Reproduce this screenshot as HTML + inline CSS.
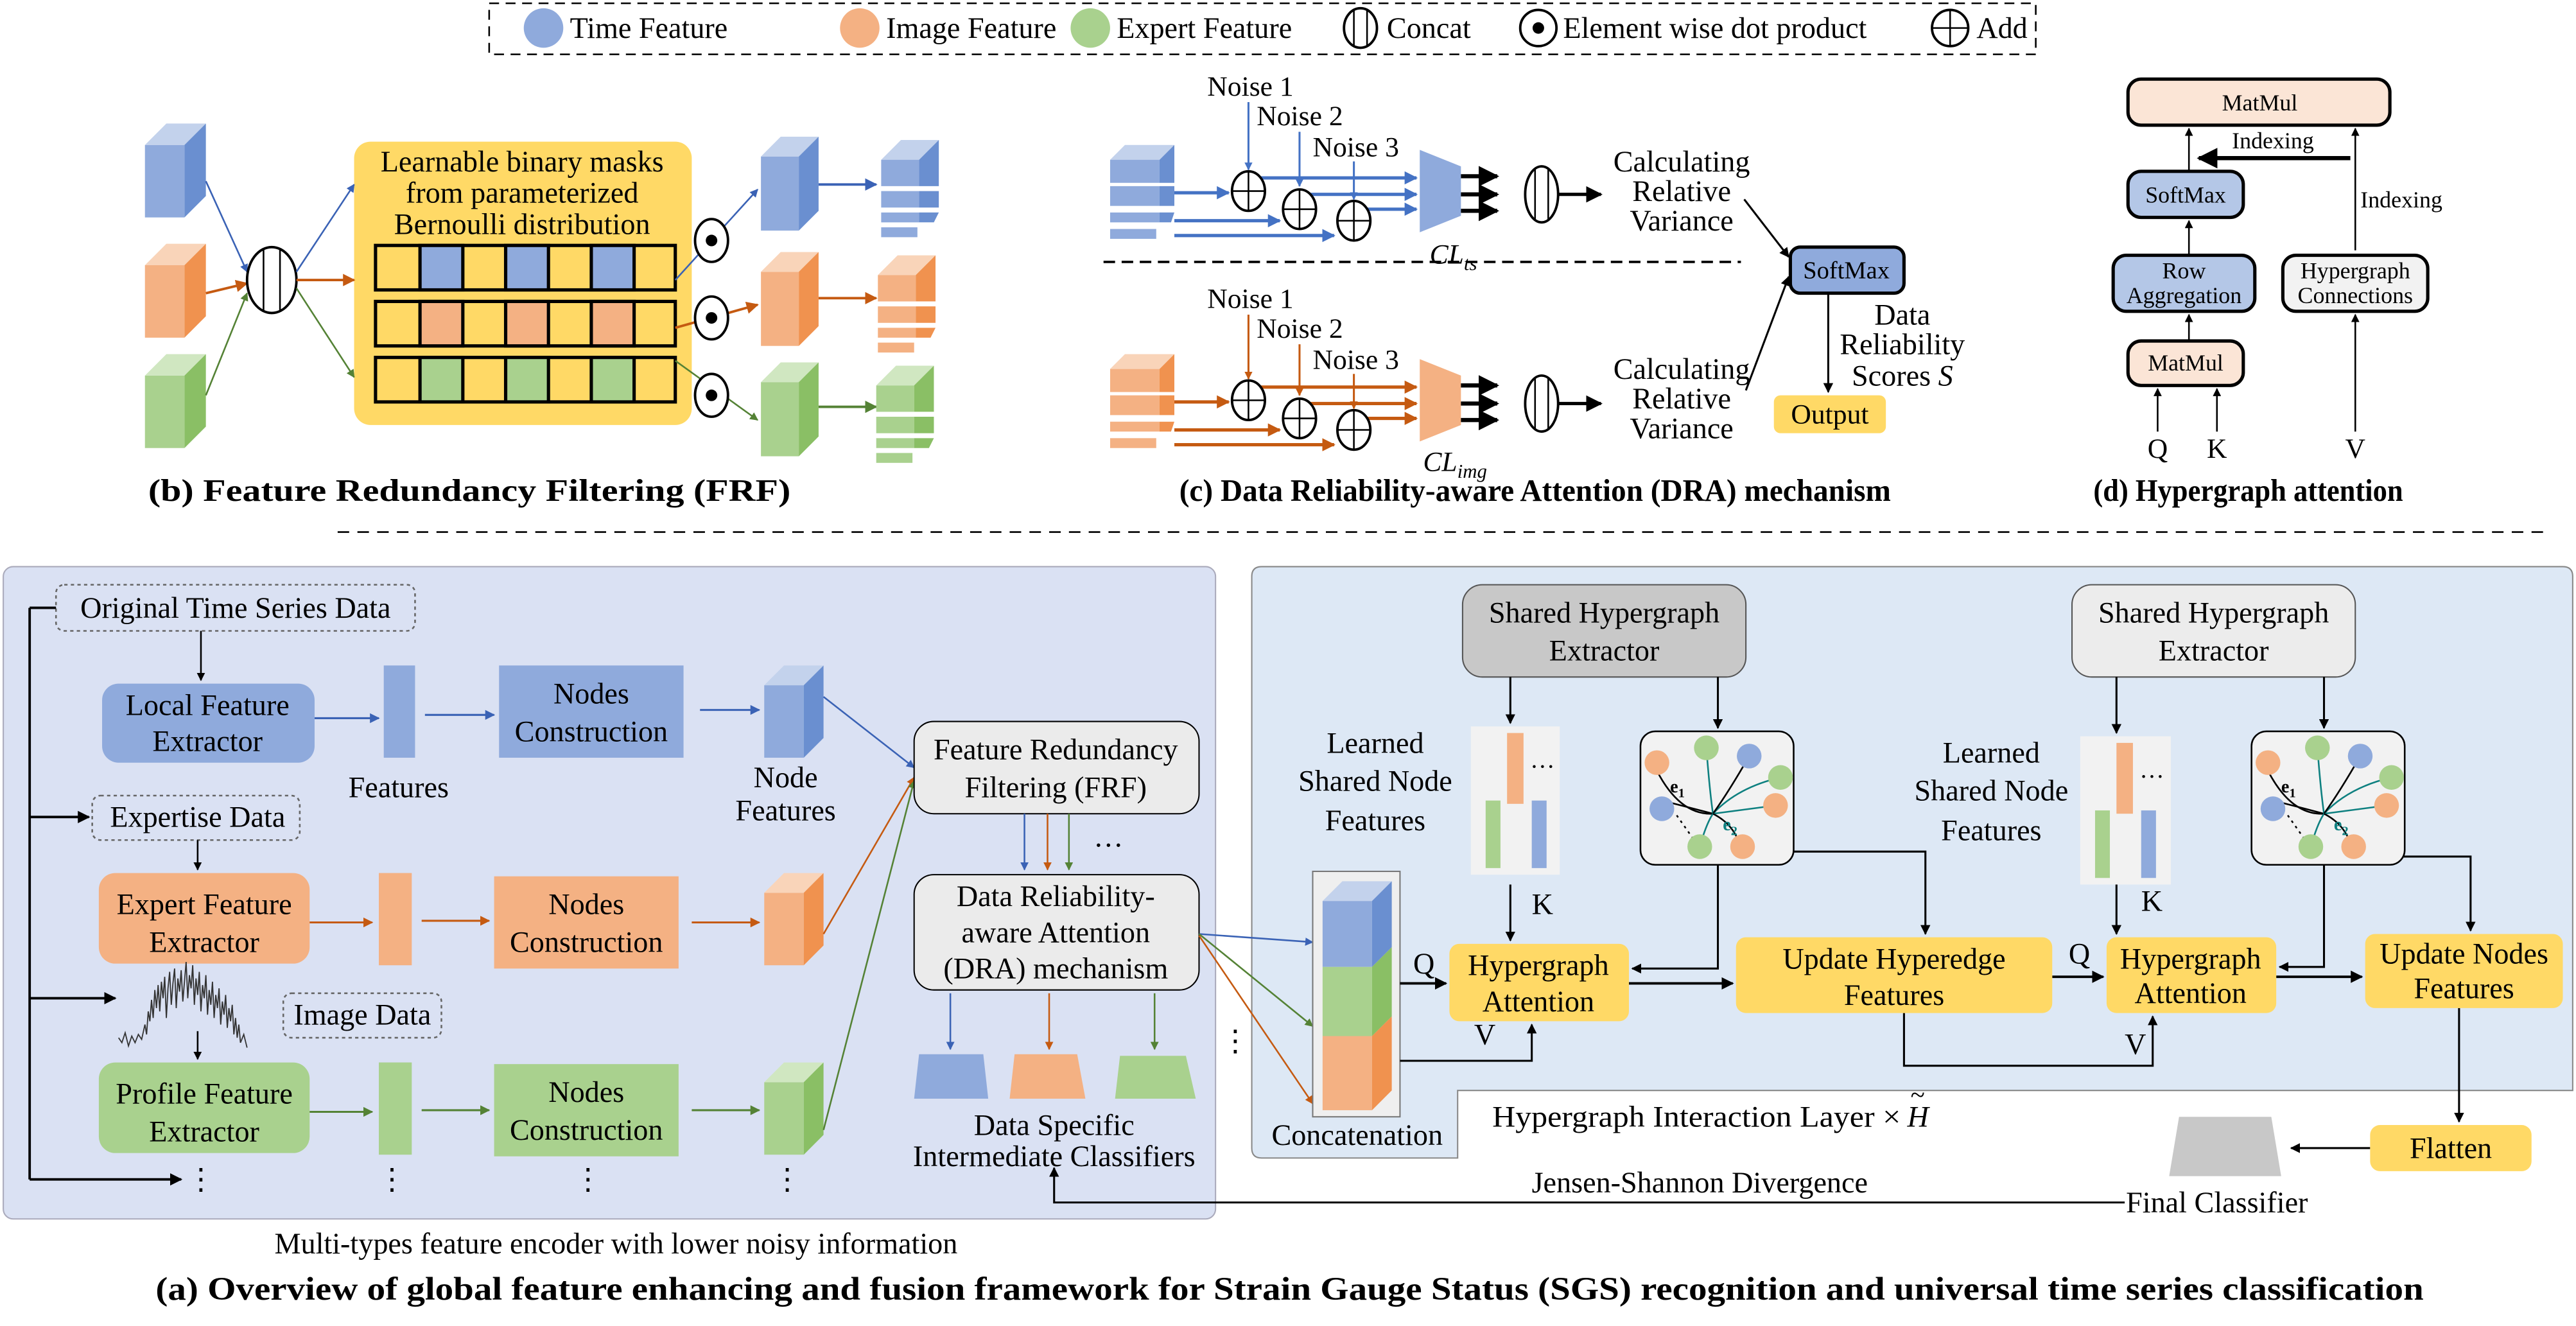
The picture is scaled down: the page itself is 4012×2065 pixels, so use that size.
<!DOCTYPE html>
<html><head><meta charset="utf-8"><style>
html,body{margin:0;padding:0;background:#fff}
svg{display:block}
text{font-family:"Liberation Serif","Times New Roman","DejaVu Serif",serif;fill:#000}
.b{font-weight:bold}
</style></head><body>
<svg width="4012" height="2065" viewBox="0 0 1564 805" xmlns="http://www.w3.org/2000/svg" font-family="Liberation Serif, Times New Roman, serif">
<defs>
<marker id="ak" viewBox="0 0 10 10" refX="9" refY="5" markerWidth="5" markerHeight="5" orient="auto"><path d="M0,0L10,5L0,10z" fill="#000"/></marker>
<marker id="ab" viewBox="0 0 10 10" refX="9" refY="5" markerWidth="5" markerHeight="5" orient="auto"><path d="M0,0L10,5L0,10z" fill="#3a62b5"/></marker>
<marker id="ao" viewBox="0 0 10 10" refX="9" refY="5" markerWidth="5" markerHeight="5" orient="auto"><path d="M0,0L10,5L0,10z" fill="#c55a11"/></marker>
<marker id="ag" viewBox="0 0 10 10" refX="9" refY="5" markerWidth="5" markerHeight="5" orient="auto"><path d="M0,0L10,5L0,10z" fill="#548235"/></marker>
<marker id="abb" viewBox="0 0 10 10" refX="9" refY="5" markerWidth="4" markerHeight="4" orient="auto"><path d="M0,0L10,5L0,10z" fill="#4472c4"/></marker>
<marker id="aoo" viewBox="0 0 10 10" refX="9" refY="5" markerWidth="4" markerHeight="4" orient="auto"><path d="M0,0L10,5L0,10z" fill="#c55a11"/></marker>
</defs>

<!-- LEGEND -->
<rect x="297" y="2" width="939" height="31" fill="none" stroke="#000" stroke-dasharray="6,4"/>
<circle cx="330" cy="17" r="12" fill="#8faadc"/><text x="346" y="23" font-size="18">Time Feature</text>
<circle cx="522" cy="17" r="12" fill="#f4b183"/><text x="538" y="23" font-size="18">Image Feature</text>
<circle cx="662" cy="17" r="12" fill="#a9d18e"/><text x="678" y="23" font-size="18">Expert Feature</text>
<ellipse cx="826" cy="17" rx="10" ry="12" fill="#fff" stroke="#000" stroke-width="1.5"/><line x1="822" y1="6" x2="822" y2="28" stroke="#000"/><line x1="830" y1="6" x2="830" y2="28" stroke="#000"/><text x="842" y="23" font-size="18">Concat</text>
<circle cx="934" cy="17" r="11" fill="#fff" stroke="#000" stroke-width="1.5"/><circle cx="934" cy="17" r="3.5" fill="#000"/><text x="949" y="23" font-size="18">Element wise dot product</text>
<circle cx="1184" cy="17" r="11" fill="#fff" stroke="#000" stroke-width="1.5"/><line x1="1173" y1="17" x2="1195" y2="17" stroke="#000"/><line x1="1184" y1="6" x2="1184" y2="28" stroke="#000"/><text x="1200" y="23" font-size="18">Add</text>

<!-- (b) FRF -->
<g>
<rect x="88" y="88" width="24" height="44" fill="#8faadc"/><polygon points="88,88 101,75 125,75 112,88" fill="#c3d2ec"/><polygon points="112,88 125,75 125,119 112,132" fill="#6a8fd0"/>
<rect x="88" y="161" width="24" height="44" fill="#f4b183"/><polygon points="88,161 101,148 125,148 112,161" fill="#f9d4b9"/><polygon points="112,161 125,148 125,192 112,205" fill="#f0924f"/>
<rect x="88" y="228" width="24" height="44" fill="#a9d18e"/><polygon points="88,228 101,215 125,215 112,228" fill="#d0e7c1"/><polygon points="112,228 125,215 125,259 112,272" fill="#8abf65"/>
<line x1="125" y1="110" x2="150" y2="165" stroke="#3a62b5" marker-end="url(#ab)"/>
<line x1="125" y1="178" x2="150" y2="172" stroke="#c55a11" stroke-width="1.5" marker-end="url(#ao)"/>
<line x1="125" y1="240" x2="150" y2="178" stroke="#548235" marker-end="url(#ag)"/>
<ellipse cx="165" cy="170" rx="15" ry="20" fill="#fff" stroke="#000" stroke-width="1.5"/><line x1="160" y1="151" x2="160" y2="189" stroke="#000"/><line x1="170" y1="151" x2="170" y2="189" stroke="#000"/>
<rect x="215" y="86" width="205" height="172" rx="10" fill="#ffd966"/>
<text x="317" y="104" font-size="18" text-anchor="middle">Learnable binary masks</text>
<text x="317" y="123" font-size="18" text-anchor="middle">from parameterized</text>
<text x="317" y="142" font-size="18" text-anchor="middle">Bernoulli distribution</text>
<line x1="180" y1="165" x2="215" y2="112" stroke="#3a62b5" marker-end="url(#ab)"/>
<line x1="180" y1="170" x2="215" y2="170" stroke="#c55a11" stroke-width="1.5" marker-end="url(#ao)"/>
<line x1="180" y1="175" x2="215" y2="229" stroke="#548235" marker-end="url(#ag)"/>
<g stroke="#000" stroke-width="2">
<rect x="228" y="149" width="182" height="27" fill="#ffd966"/>
<rect x="255" y="149" width="26" height="27" fill="#8faadc"/><rect x="307" y="149" width="26" height="27" fill="#8faadc"/><rect x="359" y="149" width="26" height="27" fill="#8faadc"/>
<rect x="228" y="183" width="182" height="27" fill="#ffd966"/>
<rect x="255" y="183" width="26" height="27" fill="#f4b183"/><rect x="307" y="183" width="26" height="27" fill="#f4b183"/><rect x="359" y="183" width="26" height="27" fill="#f4b183"/>
<rect x="228" y="217" width="182" height="27" fill="#ffd966"/>
<rect x="255" y="217" width="26" height="27" fill="#a9d18e"/><rect x="307" y="217" width="26" height="27" fill="#a9d18e"/><rect x="359" y="217" width="26" height="27" fill="#a9d18e"/>
</g>
<line x1="410" y1="170" x2="460" y2="115" stroke="#3a62b5" marker-end="url(#ab)"/>
<line x1="410" y1="199" x2="460" y2="185" stroke="#c55a11" stroke-width="1.5" marker-end="url(#ao)"/>
<line x1="410" y1="219" x2="460" y2="255" stroke="#548235" marker-end="url(#ag)"/>
<g fill="#fff" stroke="#000" stroke-width="1.5">
<ellipse cx="432" cy="146" rx="10" ry="13"/><ellipse cx="432" cy="193" rx="10" ry="13"/><ellipse cx="432" cy="240" rx="10" ry="13"/></g>
<circle cx="432" cy="146" r="3.5"/><circle cx="432" cy="193" r="3.5"/><circle cx="432" cy="240" r="3.5"/>
<rect x="462" y="95" width="23" height="45" fill="#8faadc"/><polygon points="462,95 474,83 497,83 485,95" fill="#c3d2ec"/><polygon points="485,95 497,83 497,128 485,140" fill="#6a8fd0"/>
<rect x="462" y="165" width="23" height="45" fill="#f4b183"/><polygon points="462,165 474,153 497,153 485,165" fill="#f9d4b9"/><polygon points="485,165 497,153 497,198 485,210" fill="#f0924f"/>
<rect x="462" y="232" width="23" height="45" fill="#a9d18e"/><polygon points="462,232 474,220 497,220 485,232" fill="#d0e7c1"/><polygon points="485,232 497,220 497,265 485,277" fill="#8abf65"/>
<line x1="497" y1="112" x2="532" y2="112" stroke="#3a62b5" stroke-width="1.5" marker-end="url(#ab)"/>
<line x1="497" y1="181" x2="532" y2="181" stroke="#c55a11" stroke-width="1.5" marker-end="url(#ao)"/>
<line x1="497" y1="247" x2="532" y2="247" stroke="#548235" stroke-width="1.5" marker-end="url(#ag)"/>
<g><polygon points="535,97 547,85 570,85 558,97" fill="#c3d2ec"/><rect x="535" y="97" width="23" height="16" fill="#8faadc"/><polygon points="558,97 570,85 570,113 558,113" fill="#6a8fd0"/>
<rect x="535" y="116" width="23" height="10" fill="#8faadc"/><rect x="558" y="116" width="12" height="10" fill="#6a8fd0"/>
<rect x="535" y="129" width="23" height="6" fill="#8faadc"/><polygon points="558,129 570,129 567,135 558,135" fill="#6a8fd0"/>
<rect x="535" y="138" width="22" height="6" fill="#8faadc"/></g>
<g><polygon points="533,167 545,155 568,155 556,167" fill="#f9d4b9"/><rect x="533" y="167" width="23" height="16" fill="#f4b183"/><polygon points="556,167 568,155 568,183 556,183" fill="#f0924f"/>
<rect x="533" y="186" width="23" height="10" fill="#f4b183"/><rect x="556" y="186" width="12" height="10" fill="#f0924f"/>
<rect x="533" y="199" width="23" height="6" fill="#f4b183"/><polygon points="556,199 568,199 565,205 556,205" fill="#f0924f"/>
<rect x="533" y="208" width="22" height="6" fill="#f4b183"/></g>
<g><polygon points="532,234 544,222 567,222 555,234" fill="#d0e7c1"/><rect x="532" y="234" width="23" height="16" fill="#a9d18e"/><polygon points="555,234 567,222 567,250 555,250" fill="#8abf65"/>
<rect x="532" y="253" width="23" height="10" fill="#a9d18e"/><rect x="555" y="253" width="12" height="10" fill="#8abf65"/>
<rect x="532" y="266" width="23" height="6" fill="#a9d18e"/><polygon points="555,266 567,266 564,272 555,272" fill="#8abf65"/>
<rect x="532" y="275" width="22" height="6" fill="#a9d18e"/></g>
<text x="285" y="304" font-size="19" class="b" text-anchor="middle" textLength="390" lengthAdjust="spacingAndGlyphs">(b) Feature Redundancy Filtering (FRF)</text>
</g>

<!-- (c) DRA -->
<g>
<polygon points="674,97 683,88 713,88 704,97" fill="#c3d2ec"/><rect x="674" y="97" width="30" height="14" fill="#8faadc"/><polygon points="704,97 713,88 713,111 704,111" fill="#6a8fd0"/>
<rect x="674" y="113" width="30" height="12" fill="#8faadc"/><rect x="704" y="113" width="9" height="12" fill="#6a8fd0"/>
<rect x="674" y="129" width="30" height="6" fill="#8faadc"/><polygon points="704,129 713,129 711,135 704,135" fill="#6a8fd0"/>
<rect x="674" y="139" width="28" height="6" fill="#8faadc"/>
<text x="733" y="58" font-size="17">Noise 1</text><text x="763" y="76" font-size="17">Noise 2</text><text x="797" y="95" font-size="17">Noise 3</text>
<g stroke="#4472c4" stroke-width="1.2">
<line x1="758" y1="62" x2="758" y2="103" marker-end="url(#abb)"/>
<line x1="789" y1="80" x2="789" y2="113" marker-end="url(#abb)"/>
<line x1="822" y1="98" x2="822" y2="121" marker-end="url(#abb)"/>
</g>
<g stroke="#4472c4" stroke-width="2">
<line x1="713" y1="117" x2="746" y2="117" marker-end="url(#abb)"/>
<line x1="758" y1="108" x2="860" y2="108" marker-end="url(#abb)"/>
<line x1="789" y1="118" x2="860" y2="118" marker-end="url(#abb)"/>
<line x1="822" y1="127" x2="860" y2="127" marker-end="url(#abb)"/>
<line x1="713" y1="134" x2="777" y2="134" marker-end="url(#abb)"/>
<line x1="713" y1="143" x2="810" y2="143" marker-end="url(#abb)"/>
</g>
<g fill="#fff" stroke="#000" stroke-width="1.5">
<ellipse cx="758" cy="116" rx="10" ry="12"/><ellipse cx="789" cy="127" rx="10" ry="12"/><ellipse cx="822" cy="134" rx="10" ry="12"/></g>
<g stroke="#000"><line x1="748" y1="116" x2="768" y2="116"/><line x1="758" y1="104" x2="758" y2="128"/>
<line x1="779" y1="127" x2="799" y2="127"/><line x1="789" y1="115" x2="789" y2="139"/>
<line x1="812" y1="134" x2="832" y2="134"/><line x1="822" y1="122" x2="822" y2="146"/></g>
<polygon points="862,91 887,101 887,131 862,141" fill="#8faadc"/>
<g stroke="#000" stroke-width="2.5"><line x1="887" y1="107" x2="909" y2="107" marker-end="url(#ak)"/><line x1="887" y1="118" x2="909" y2="118" marker-end="url(#ak)"/><line x1="887" y1="128" x2="909" y2="128" marker-end="url(#ak)"/></g>
<ellipse cx="936" cy="118" rx="10" ry="17" fill="#fff" stroke="#000" stroke-width="1.5"/><line x1="932" y1="102" x2="932" y2="134" stroke="#000"/><line x1="940" y1="102" x2="940" y2="134" stroke="#000"/>
<line x1="946" y1="118" x2="972" y2="118" stroke="#000" stroke-width="2" marker-end="url(#ak)"/>
</g>
<text x="868" y="160" font-size="17" font-style="italic">CL<tspan font-size="12" dy="4">ts</tspan></text>
<text x="1021" y="104" font-size="18" text-anchor="middle">Calculating</text>
<text x="1021" y="122" font-size="18" text-anchor="middle">Relative</text>
<text x="1021" y="140" font-size="18" text-anchor="middle">Variance</text>
<line x1="670" y1="159" x2="1057" y2="159" stroke="#000" stroke-width="1.5" stroke-dasharray="7,4"/>

<g>
<polygon points="674,224 683,215 713,215 704,224" fill="#f9d4b9"/><rect x="674" y="224" width="30" height="14" fill="#f4b183"/><polygon points="704,224 713,215 713,238 704,238" fill="#f0924f"/>
<rect x="674" y="240" width="30" height="12" fill="#f4b183"/><rect x="704" y="240" width="9" height="12" fill="#f0924f"/>
<rect x="674" y="256" width="30" height="6" fill="#f4b183"/><polygon points="704,256 713,256 711,262 704,262" fill="#f0924f"/>
<rect x="674" y="266" width="28" height="6" fill="#f4b183"/>
<text x="733" y="187" font-size="17">Noise 1</text><text x="763" y="205" font-size="17">Noise 2</text><text x="797" y="224" font-size="17">Noise 3</text>
<g stroke="#c55a11" stroke-width="1.2">
<line x1="758" y1="191" x2="758" y2="230" marker-end="url(#aoo)"/>
<line x1="789" y1="209" x2="789" y2="240" marker-end="url(#aoo)"/>
<line x1="822" y1="227" x2="822" y2="248" marker-end="url(#aoo)"/>
</g>
<g stroke="#c55a11" stroke-width="2">
<line x1="713" y1="244" x2="746" y2="244" marker-end="url(#aoo)"/>
<line x1="758" y1="235" x2="860" y2="235" marker-end="url(#aoo)"/>
<line x1="789" y1="245" x2="860" y2="245" marker-end="url(#aoo)"/>
<line x1="822" y1="254" x2="860" y2="254" marker-end="url(#aoo)"/>
<line x1="713" y1="261" x2="777" y2="261" marker-end="url(#aoo)"/>
<line x1="713" y1="270" x2="810" y2="270" marker-end="url(#aoo)"/>
</g>
<g fill="#fff" stroke="#000" stroke-width="1.5">
<ellipse cx="758" cy="243" rx="10" ry="12"/><ellipse cx="789" cy="254" rx="10" ry="12"/><ellipse cx="822" cy="261" rx="10" ry="12"/></g>
<g stroke="#000"><line x1="748" y1="243" x2="768" y2="243"/><line x1="758" y1="231" x2="758" y2="255"/>
<line x1="779" y1="254" x2="799" y2="254"/><line x1="789" y1="242" x2="789" y2="266"/>
<line x1="812" y1="261" x2="832" y2="261"/><line x1="822" y1="249" x2="822" y2="273"/></g>
<polygon points="862,218 887,228 887,258 862,268" fill="#f4b183"/>
<g stroke="#000" stroke-width="2.5"><line x1="887" y1="234" x2="909" y2="234" marker-end="url(#ak)"/><line x1="887" y1="245" x2="909" y2="245" marker-end="url(#ak)"/><line x1="887" y1="255" x2="909" y2="255" marker-end="url(#ak)"/></g>
<ellipse cx="936" cy="245" rx="10" ry="17" fill="#fff" stroke="#000" stroke-width="1.5"/><line x1="932" y1="229" x2="932" y2="261" stroke="#000"/><line x1="940" y1="229" x2="940" y2="261" stroke="#000"/>
<line x1="946" y1="245" x2="972" y2="245" stroke="#000" stroke-width="2" marker-end="url(#ak)"/>
</g>
<text x="864" y="286" font-size="17" font-style="italic">CL<tspan font-size="12" dy="4">img</tspan></text>
<text x="1021" y="230" font-size="18" text-anchor="middle">Calculating</text>
<text x="1021" y="248" font-size="18" text-anchor="middle">Relative</text>
<text x="1021" y="266" font-size="18" text-anchor="middle">Variance</text>
<line x1="1059" y1="121" x2="1086" y2="156" stroke="#000" stroke-width="1.2" marker-end="url(#ak)"/>
<line x1="1060" y1="237" x2="1086" y2="168" stroke="#000" stroke-width="1.2" marker-end="url(#ak)"/>
<rect x="1087" y="150" width="69" height="28" rx="6" fill="#8faadc" stroke="#000" stroke-width="2"/>
<text x="1121" y="169" font-size="15" text-anchor="middle">SoftMax</text>
<line x1="1110" y1="178" x2="1110" y2="238" stroke="#000" stroke-width="1.2" marker-end="url(#ak)"/>
<text x="1155" y="197" font-size="18" text-anchor="middle">Data</text>
<text x="1155" y="215" font-size="18" text-anchor="middle">Reliability</text>
<text x="1155" y="234" font-size="18" text-anchor="middle">Scores <tspan font-style="italic">S</tspan></text>
<rect x="1077" y="240" width="68" height="23" rx="4" fill="#ffd966"/>
<text x="1111" y="257" font-size="17" text-anchor="middle">Output</text>
<text x="932" y="304" font-size="19" class="b" text-anchor="middle" textLength="432" lengthAdjust="spacingAndGlyphs">(c) Data Reliability-aware Attention (DRA) mechanism</text>

<!-- (d) -->
<g stroke="#000" stroke-width="2">
<rect x="1292" y="48" width="159" height="28" rx="8" fill="#fbe5d6"/>
<rect x="1292" y="104" width="70" height="28" rx="8" fill="#b4c7e7"/>
<rect x="1283" y="155" width="86" height="34" rx="8" fill="#b4c7e7"/>
<rect x="1386" y="155" width="88" height="34" rx="8" fill="#f2f2f2"/>
<rect x="1292" y="207" width="70" height="27" rx="8" fill="#fbe5d6"/>
</g>
<text x="1372" y="67" font-size="14" text-anchor="middle">MatMul</text>
<text x="1327" y="123" font-size="14" text-anchor="middle">SoftMax</text>
<text x="1326" y="169" font-size="14" text-anchor="middle">Row</text>
<text x="1326" y="184" font-size="14" text-anchor="middle">Aggregation</text>
<text x="1430" y="169" font-size="14" text-anchor="middle">Hypergraph</text>
<text x="1430" y="184" font-size="14" text-anchor="middle">Connections</text>
<text x="1327" y="225" font-size="14" text-anchor="middle">MatMul</text>
<g stroke="#000" stroke-width="1">
<line x1="1329" y1="104" x2="1329" y2="78" marker-end="url(#ak)"/>
<line x1="1329" y1="155" x2="1329" y2="134" marker-end="url(#ak)"/>
<line x1="1329" y1="207" x2="1329" y2="191" marker-end="url(#ak)"/>
<line x1="1310" y1="262" x2="1310" y2="236" marker-end="url(#ak)"/>
<line x1="1346" y1="262" x2="1346" y2="236" marker-end="url(#ak)"/>
<line x1="1430" y1="262" x2="1430" y2="191" marker-end="url(#ak)"/>
<line x1="1430" y1="152" x2="1430" y2="78" marker-end="url(#ak)"/>
</g>
<line x1="1427" y1="96" x2="1335" y2="96" stroke="#000" stroke-width="2.5" marker-end="url(#ak)"/>
<text x="1380" y="90" font-size="14" text-anchor="middle">Indexing</text>
<text x="1458" y="126" font-size="14" text-anchor="middle">Indexing</text>
<text x="1310" y="278" font-size="17" text-anchor="middle">Q</text>
<text x="1346" y="278" font-size="17" text-anchor="middle">K</text>
<text x="1430" y="278" font-size="17" text-anchor="middle">V</text>
<text x="1365" y="304" font-size="19" class="b" text-anchor="middle" textLength="188" lengthAdjust="spacingAndGlyphs">(d) Hypergraph attention</text>

<line x1="205" y1="323" x2="1548" y2="323" stroke="#000" stroke-dasharray="7,5"/>

<!-- LEFT PANEL -->
<rect x="2" y="344" width="736" height="396" rx="6" fill="#dae1f3" stroke="#aab" stroke-width="0.8"/>
<rect x="34" y="355" width="218" height="28" rx="5" fill="none" stroke="#666" stroke-dasharray="2,2"/>
<text x="143" y="375" font-size="18" text-anchor="middle">Original Time Series Data</text>
<line x1="18" y1="369" x2="34" y2="369" stroke="#000" stroke-width="1.5"/>
<line x1="18" y1="369" x2="18" y2="716" stroke="#000" stroke-width="1.5"/>
<line x1="18" y1="496" x2="54" y2="496" stroke="#000" stroke-width="1.5" marker-end="url(#ak)"/>
<line x1="18" y1="606" x2="70" y2="606" stroke="#000" stroke-width="1.5" marker-end="url(#ak)"/>
<line x1="18" y1="716" x2="110" y2="716" stroke="#000" stroke-width="1.5" marker-end="url(#ak)"/>
<line x1="122" y1="383" x2="122" y2="413" stroke="#000" marker-end="url(#ak)"/>
<rect x="62" y="415" width="129" height="48" rx="10" fill="#8faadc"/>
<text x="126" y="434" font-size="18" text-anchor="middle">Local Feature</text>
<text x="126" y="456" font-size="18" text-anchor="middle">Extractor</text>
<rect x="56" y="483" width="126" height="27" rx="5" fill="none" stroke="#666" stroke-dasharray="2,2"/>
<text x="120" y="502" font-size="18" text-anchor="middle">Expertise Data</text>
<line x1="120" y1="510" x2="120" y2="528" stroke="#000" marker-end="url(#ak)"/>
<rect x="60" y="530" width="128" height="55" rx="10" fill="#f4b183"/>
<text x="124" y="555" font-size="18" text-anchor="middle">Expert Feature</text>
<text x="124" y="578" font-size="18" text-anchor="middle">Extractor</text>
<polyline fill="none" stroke="#333" stroke-width="0.7" points="72,630 74,633 76,627 78,635 80,629 82,633 84,628 86,631 88,622 89,628 90,614 91,620 92,607 93,618 94,601 95,612 96,598 97,614 98,596 99,606 100,593 101,618 102,600 103,590 104,610 105,597 106,588 107,612 108,594 109,602 110,589 111,608 112,596 113,584 114,606 115,592 116,600 117,586 118,610 119,594 120,604 121,590 122,614 123,598 124,606 125,592 126,616 127,601 128,610 129,596 130,618 131,604 132,612 133,600 134,622 135,608 136,616 137,604 138,624 139,612 140,620 141,610 142,628 143,618 144,630 145,622 146,633 148,628 150,636"/>
<rect x="172" y="603" width="96" height="27" rx="5" fill="none" stroke="#666" stroke-dasharray="2,2"/>
<text x="220" y="622" font-size="18" text-anchor="middle">Image Data</text>
<line x1="120" y1="626" x2="120" y2="643" stroke="#000" marker-end="url(#ak)"/>
<rect x="60" y="645" width="128" height="55" rx="10" fill="#a9d18e"/>
<text x="124" y="670" font-size="18" text-anchor="middle">Profile Feature</text>
<text x="124" y="693" font-size="18" text-anchor="middle">Extractor</text>

<rect x="233" y="404" width="19" height="56" fill="#8faadc"/>
<rect x="230" y="530" width="20" height="56" fill="#f4b183"/>
<rect x="230" y="645" width="20" height="56" fill="#a9d18e"/>
<rect x="303" y="404" width="112" height="56" fill="#8faadc"/>
<rect x="300" y="532" width="112" height="56" fill="#f4b183"/>
<rect x="300" y="646" width="112" height="56" fill="#a9d18e"/>
<g font-size="18" text-anchor="middle">
<text x="359" y="427">Nodes</text><text x="359" y="450">Construction</text>
<text x="356" y="555">Nodes</text><text x="356" y="578">Construction</text>
<text x="356" y="669">Nodes</text><text x="356" y="692">Construction</text>
<text x="242" y="484">Features</text>
<text x="477" y="478">Node</text><text x="477" y="498">Features</text>
</g>
<g stroke-width="1.2">
<line x1="191" y1="436" x2="230" y2="436" stroke="#3a62b5" marker-end="url(#ab)"/>
<line x1="258" y1="434" x2="300" y2="434" stroke="#3a62b5" marker-end="url(#ab)"/>
<line x1="425" y1="431" x2="461" y2="431" stroke="#3a62b5" marker-end="url(#ab)"/>
<line x1="188" y1="560" x2="226" y2="560" stroke="#c55a11" marker-end="url(#ao)"/>
<line x1="256" y1="559" x2="297" y2="559" stroke="#c55a11" marker-end="url(#ao)"/>
<line x1="420" y1="560" x2="461" y2="560" stroke="#c55a11" marker-end="url(#ao)"/>
<line x1="188" y1="675" x2="226" y2="675" stroke="#548235" marker-end="url(#ag)"/>
<line x1="256" y1="674" x2="297" y2="674" stroke="#548235" marker-end="url(#ag)"/>
<line x1="420" y1="674" x2="461" y2="674" stroke="#548235" marker-end="url(#ag)"/>
</g>
<rect x="464" y="416" width="24" height="44" fill="#8faadc"/><polygon points="464,416 476,404 500,404 488,416" fill="#c3d2ec"/><polygon points="488,416 500,404 500,448 488,460" fill="#6a8fd0"/>
<rect x="464" y="542" width="24" height="44" fill="#f4b183"/><polygon points="464,542 476,530 500,530 488,542" fill="#f9d4b9"/><polygon points="488,542 500,530 500,574 488,586" fill="#f0924f"/>
<rect x="464" y="657" width="24" height="44" fill="#a9d18e"/><polygon points="464,657 476,645 500,645 488,657" fill="#d0e7c1"/><polygon points="488,657 500,645 500,689 488,701" fill="#8abf65"/>
<g font-size="18" text-anchor="middle"><text x="122" y="722">⋮</text><text x="238" y="722">⋮</text><text x="357" y="722">⋮</text><text x="478" y="722">⋮</text><text x="750" y="638">⋮</text></g>

<line x1="500" y1="423" x2="555" y2="466" stroke="#3a62b5" marker-end="url(#ab)"/>
<line x1="500" y1="567" x2="555" y2="472" stroke="#c55a11" marker-end="url(#ao)"/>
<line x1="500" y1="686" x2="555" y2="474" stroke="#548235" marker-end="url(#ag)"/>
<rect x="555" y="438" width="173" height="56" rx="12" fill="#ebebeb" stroke="#000" stroke-width="0.8"/>
<text x="641" y="461" font-size="18" text-anchor="middle">Feature Redundancy</text>
<text x="641" y="484" font-size="18" text-anchor="middle">Filtering (FRF)</text>
<line x1="622" y1="494" x2="622" y2="528" stroke="#3a62b5" marker-end="url(#ab)"/>
<line x1="636" y1="494" x2="636" y2="528" stroke="#c55a11" marker-end="url(#ao)"/>
<line x1="649" y1="494" x2="649" y2="528" stroke="#548235" marker-end="url(#ag)"/>
<text x="664" y="514" font-size="18">…</text>
<rect x="555" y="531" width="173" height="70" rx="12" fill="#ebebeb" stroke="#000" stroke-width="0.8"/>
<text x="641" y="550" font-size="18" text-anchor="middle">Data Reliability-</text>
<text x="641" y="572" font-size="18" text-anchor="middle">aware Attention</text>
<text x="641" y="594" font-size="18" text-anchor="middle">(DRA) mechanism</text>
<line x1="577" y1="603" x2="577" y2="637" stroke="#3a62b5" marker-end="url(#ab)"/>
<line x1="637" y1="603" x2="637" y2="637" stroke="#c55a11" marker-end="url(#ao)"/>
<line x1="701" y1="603" x2="701" y2="637" stroke="#548235" marker-end="url(#ag)"/>
<polygon points="558,640 597,640 600,667 555,667" fill="#8faadc"/>
<polygon points="616,640 654,640 659,667 613,667" fill="#f4b183"/>
<polygon points="680,641 720,641 726,667 677,667" fill="#a9d18e"/>
<text x="640" y="689" font-size="18" text-anchor="middle">Data Specific</text>
<text x="640" y="708" font-size="18" text-anchor="middle">Intermediate Classifiers</text>
<text x="374" y="761" font-size="18" text-anchor="middle">Multi-types feature encoder with lower noisy information</text>

<!-- RIGHT PANEL -->
<path d="M766,344 H1556 Q1562,344 1562,350 V662 H885 V703 H766 Q760,703 760,697 V350 Q760,344 766,344Z" fill="#dde8f5" stroke="#888" stroke-width="0.8"/>
<line x1="728" y1="567" x2="797" y2="572" stroke="#3a62b5" marker-end="url(#ab)"/>
<line x1="728" y1="567" x2="797" y2="623" stroke="#548235" marker-end="url(#ag)"/>
<line x1="728" y1="568" x2="797" y2="670" stroke="#c55a11" marker-end="url(#ao)"/>
<rect x="797" y="529" width="53" height="149" fill="#efefef" stroke="#777" stroke-width="0.8"/>
<polygon points="803,547 815,535 845,535 833,547" fill="#c3d2ec"/>
<rect x="803" y="547" width="30" height="40" fill="#8faadc"/><rect x="803" y="587" width="30" height="42" fill="#a9d18e"/><rect x="803" y="629" width="30" height="45" fill="#f4b183"/>
<polygon points="833,547 845,535 845,575 833,587" fill="#6a8fd0"/><polygon points="833,587 845,575 845,617 833,629" fill="#8abf65"/><polygon points="833,629 845,617 845,662 833,674" fill="#f0924f"/>
<text x="824" y="695" font-size="18" text-anchor="middle">Concatenation</text>

<rect x="888" y="355" width="172" height="56" rx="12" fill="#c8c8c8" stroke="#555" stroke-width="0.8"/>
<text x="974" y="378" font-size="18" text-anchor="middle">Shared Hypergraph</text>
<text x="974" y="401" font-size="18" text-anchor="middle">Extractor</text>
<rect x="1258" y="355" width="172" height="56" rx="12" fill="#ececec" stroke="#555" stroke-width="0.8"/>
<text x="1344" y="378" font-size="18" text-anchor="middle">Shared Hypergraph</text>
<text x="1344" y="401" font-size="18" text-anchor="middle">Extractor</text>

<text x="835" y="457" font-size="18" text-anchor="middle">Learned</text>
<text x="835" y="480" font-size="18" text-anchor="middle">Shared Node</text>
<text x="835" y="504" font-size="18" text-anchor="middle">Features</text>
<text x="1209" y="463" font-size="18" text-anchor="middle">Learned</text>
<text x="1209" y="486" font-size="18" text-anchor="middle">Shared Node</text>
<text x="1209" y="510" font-size="18" text-anchor="middle">Features</text>

<rect x="893" y="441" width="54" height="90" fill="#f2f2f2"/>
<rect x="915" y="445" width="10" height="43" fill="#f4b183"/><rect x="902" y="486" width="9" height="41" fill="#a9d18e"/><rect x="930" y="486" width="9" height="41" fill="#8faadc"/>
<text x="929" y="466" font-size="15">…</text>
<rect x="1263" y="447" width="55" height="90" fill="#f2f2f2"/>
<rect x="1285" y="451" width="10" height="43" fill="#f4b183"/><rect x="1272" y="492" width="9" height="41" fill="#a9d18e"/><rect x="1300" y="492" width="9" height="41" fill="#8faadc"/>
<text x="1299" y="472" font-size="15">…</text>

<g id="hg1">
<rect x="996" y="444" width="93" height="81" rx="9" fill="#f2f2f2" stroke="#000" stroke-width="1"/>
<g fill="none" stroke-width="1">
<path d="M1006,468 Q1020,495 1040,494" stroke="#000"/><path d="M1009,486 Q1025,490 1040,494" stroke="#000"/><path d="M1036,454 Q1038,480 1040,494" stroke="#0e8080"/><path d="M1081,472 Q1055,478 1040,494" stroke="#0e8080"/><path d="M1062,459 Q1050,480 1040,494" stroke="#000"/><path d="M1078,489 Q1055,492 1040,494" stroke="#0e8080"/><path d="M1032,514 Q1036,500 1040,494" stroke="#0e8080"/><path d="M1056,512 Q1052,500 1040,494" stroke="#000"/>
<path d="M1018,495 L1030,512" stroke="#000" stroke-dasharray="1.5,2.5"/>
</g>
<circle cx="1006" cy="463" r="7.5" fill="#f4b183"/><circle cx="1036" cy="454" r="7.5" fill="#a9d18e"/><circle cx="1062" cy="459" r="7.5" fill="#8faadc"/><circle cx="1081" cy="472" r="7.5" fill="#a9d18e"/><circle cx="1078" cy="489" r="7.5" fill="#f4b183"/><circle cx="1009" cy="491" r="7.5" fill="#8faadc"/><circle cx="1032" cy="514" r="7.5" fill="#a9d18e"/><circle cx="1058" cy="514" r="7.5" fill="#f4b183"/>
<text x="1014" y="481" font-size="11" class="b">e<tspan font-size="8" dy="3">1</tspan></text>
<text x="1046" y="504" font-size="11" class="b" style="fill:#0e8080">e<tspan font-size="8" dy="3">2</tspan></text>
</g>
<use href="#hg1" x="371" y="0"/>

<g stroke="#000" stroke-width="1.2" fill="none">
<line x1="917" y1="411" x2="917" y2="439" marker-end="url(#ak)"/>
<line x1="1043" y1="411" x2="1043" y2="442" marker-end="url(#ak)"/>
<line x1="917" y1="537" x2="917" y2="571" marker-end="url(#ak)"/>
<polyline points="1043,525 1043,588 991,588" marker-end="url(#ak)"/>
<polyline points="1089,517 1169,517 1169,567" marker-end="url(#ak)"/>
<line x1="850" y1="597" x2="878" y2="597" stroke-width="1.5" marker-end="url(#ak)"/>
<polyline points="850,644 930,644 930,622" marker-end="url(#ak)"/>
<line x1="989" y1="597" x2="1052" y2="597" stroke-width="1.5" marker-end="url(#ak)"/>
<line x1="1246" y1="593" x2="1277" y2="593" stroke-width="1.5" marker-end="url(#ak)"/>
<polyline points="1156,615 1156,647 1307,647 1307,617" marker-end="url(#ak)"/>
<line x1="1285" y1="411" x2="1285" y2="445" marker-end="url(#ak)"/>
<line x1="1411" y1="411" x2="1411" y2="442" marker-end="url(#ak)"/>
<line x1="1285" y1="537" x2="1285" y2="567" marker-end="url(#ak)"/>
<polyline points="1411,525 1411,587 1384,587" marker-end="url(#ak)"/>
<polyline points="1459,520 1500,520 1500,565" marker-end="url(#ak)"/>
<line x1="1382" y1="593" x2="1434" y2="593" stroke-width="1.5" marker-end="url(#ak)"/>
<line x1="1493" y1="612" x2="1493" y2="681" marker-end="url(#ak)"/>
<line x1="1439" y1="697" x2="1391" y2="697" marker-end="url(#ak)"/>
<polyline points="1290,730 640,730 640,709" marker-end="url(#ak)"/>
</g>
<text x="930" y="555" font-size="18">K</text>
<text x="1300" y="553" font-size="18">K</text>
<text x="858" y="591" font-size="18">Q</text>
<text x="1256" y="585" font-size="18">Q</text>
<text x="895" y="634" font-size="18">V</text>
<text x="1290" y="640" font-size="18">V</text>

<rect x="880" y="573" width="109" height="47" rx="6" fill="#ffd966"/>
<text x="934" y="592" font-size="18" text-anchor="middle">Hypergraph</text>
<text x="934" y="614" font-size="18" text-anchor="middle">Attention</text>
<rect x="1054" y="569" width="192" height="46" rx="6" fill="#ffd966"/>
<text x="1150" y="588" font-size="18" text-anchor="middle">Update Hyperedge</text>
<text x="1150" y="610" font-size="18" text-anchor="middle">Features</text>
<rect x="1279" y="569" width="103" height="46" rx="6" fill="#ffd966"/>
<text x="1330" y="588" font-size="18" text-anchor="middle">Hypergraph</text>
<text x="1330" y="609" font-size="18" text-anchor="middle">Attention</text>
<rect x="1436" y="567" width="120" height="45" rx="6" fill="#ffd966"/>
<text x="1496" y="585" font-size="18" text-anchor="middle">Update Nodes</text>
<text x="1496" y="606" font-size="18" text-anchor="middle">Features</text>
<rect x="1439" y="683" width="98" height="28" rx="6" fill="#ffd966"/>
<text x="1488" y="703" font-size="18" text-anchor="middle">Flatten</text>
<polygon points="1323,678 1379,678 1385,714 1317,714" fill="#c8c8c8"/>
<text x="1346" y="736" font-size="18" text-anchor="middle">Final Classifier</text>
<text x="1032" y="724" font-size="18" text-anchor="middle">Jensen-Shannon Divergence</text>
<text x="906" y="684" font-size="18" textLength="248" lengthAdjust="spacingAndGlyphs">Hypergraph Interaction Layer ×</text>
<text x="1158" y="684" font-size="18" font-style="italic">H</text>
<text x="1160" y="670" font-size="16">~</text>

<text x="783" y="789" font-size="20" class="b" text-anchor="middle" textLength="1377" lengthAdjust="spacingAndGlyphs">(a) Overview of global feature enhancing and  fusion framework for  Strain Gauge Status (SGS) recognition and universal time series classification</text>
</svg>
</body></html>
